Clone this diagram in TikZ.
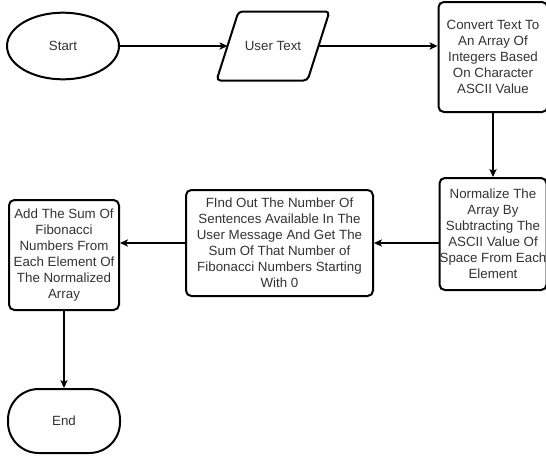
\documentclass[tikz,border=0pt]{standalone}
\usepackage{fontspec}
\setmainfont{Liberation Sans}
\usetikzlibrary{shapes.geometric,arrows.meta,calc}

\definecolor{inktext}{HTML}{333333}

\begin{document}
\begin{tikzpicture}[x=0.75pt,y=-0.75pt,
  shapebase/.style={draw=black, line width=1.5pt, text=inktext,
    font=\fontsize{10}{12}\selectfont, align=center, inner sep=0pt},
  procbox/.style={shapebase, rectangle, rounded corners=4pt},
  terminal/.style={shapebase, ellipse},
  stadium/.style={shapebase, rectangle, rounded corners=23pt},
  flow/.style={draw=black, line width=0.8pt,
    -{Stealth[length=6pt,width=5.5pt,inset=1.5pt]}},
]
% canvas (pixel units, y downwards)
\clip (0,0) rectangle (546,455);
\fill[white] (0,0) rectangle (546,455);

% nodes
\node[terminal, minimum width=84pt, minimum height=50pt] (start) at (63,46) {Start};

\node[shapebase, draw=none, minimum width=66.75pt, minimum height=50.25pt]
  (user) at (273,46) {User Text};
\draw[line width=1.5pt, rounded corners=3pt]
  ($(user.north west)+(11,0)$) -- ($(user.north east)+(11,0)$) --
  ($(user.south east)+(-11,0)$) -- ($(user.south west)+(-11,0)$) -- cycle;

\node[procbox, minimum width=81.75pt, minimum height=82.5pt] (convert) at (493,57)
  {Convert Text To\\An Array Of\\Integers Based\\On Character\\ASCII Value};

\node[procbox, minimum width=80.25pt, minimum height=84pt] (normalize) at (493,234)
  {Normalize The\\Array By\\Subtracting The\\ASCII Value Of\\Space From Each\\Element};

\node[procbox, minimum width=140.25pt, minimum height=79.5pt] (find) at (279.5,243)
  {FInd Out The Number Of\\Sentences Available In The\\User Message And Get The\\Sum Of That Number of\\Fibonacci Numbers Starting\\With 0};

\node[procbox, minimum width=82.5pt, minimum height=82.5pt] (add) at (64,255)
  {Add The Sum Of\\Fibonacci\\Numbers From\\Each Element Of\\The Normalized\\Array};

\node[stadium, minimum width=84pt, minimum height=48pt] (end) at (64,421) {End};

% connectors
\draw[flow] (start.east) -- (user.west);
\draw[flow] (user.east) -- (convert.west |- user.east);
\draw[flow] (convert.south) -- (normalize.north);
\draw[flow] (normalize.west |- find.east) -- (find.east);
\draw[flow] (find.west) -- (add.east |- find.west);
\draw[flow] (add.south) -- (end.north);
\end{tikzpicture}
\end{document}
